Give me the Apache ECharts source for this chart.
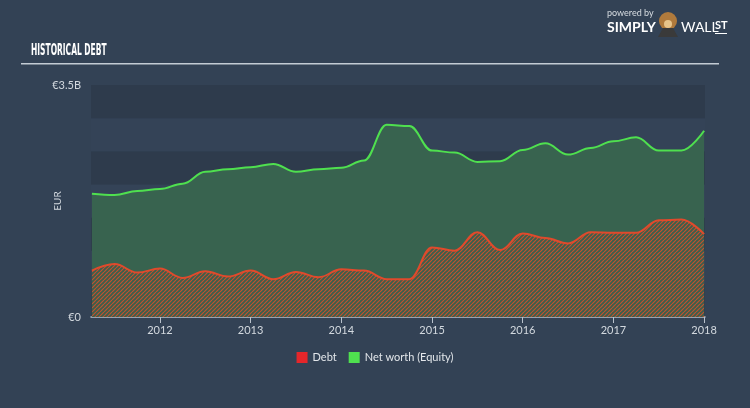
<!DOCTYPE html>
<html><head><meta charset="utf-8">
<script src="https://cdn.jsdelivr.net/npm/echarts@6/dist/echarts.min.js"></script>
<style>html,body{margin:0;padding:0;background:#334255;}#c{width:750px;height:408px;}</style>
</head><body><div id="c"></div>
<script>
// Quarter-end dates (decimal years)
var quarters = [2011.25,2011.5,2011.75,2012.0,2012.25,2012.5,2012.75,2013.0,2013.25,2013.5,2013.75,2014.0,2014.25,2014.5,2014.75,2015.0,2015.25,2015.5,2015.75,2016.0,2016.25,2016.5,2016.75,2017.0,2017.25,2017.5,2017.75,2018.0];
// Debt, EUR billions
var debt = [0.70,0.80,0.67,0.73,0.59,0.69,0.61,0.70,0.57,0.68,0.60,0.72,0.70,0.57,0.57,1.05,1.00,1.28,1.01,1.26,1.19,1.11,1.28,1.27,1.27,1.46,1.47,1.25];
// Net worth (Equity), EUR billions
var equity = [1.86,1.84,1.90,1.93,2.01,2.19,2.23,2.26,2.31,2.19,2.23,2.25,2.36,2.90,2.88,2.51,2.48,2.34,2.35,2.52,2.62,2.45,2.55,2.65,2.71,2.51,2.51,2.81];
var yearTicks = [2012,2013,2014,2015,2016,2017,2018];
var yLabels = {0:'€0', 3.5:'€3.5B'};

function pairs(v){ return quarters.map(function(q,i){ return [q, v[i]]; }); }

var pc = document.createElement('canvas');
pc.width = 4; pc.height = 4;
var g = pc.getContext('2d');
g.fillStyle = '#3a5f4c'; g.fillRect(0,0,4,4);
g.strokeStyle = '#bf5230'; g.lineWidth = 1.2;
for (var k=-4;k<=8;k+=4){ g.beginPath(); g.moveTo(k,4); g.lineTo(k+4,0); g.stroke(); }

var chart = echarts.init(document.getElementById('c'));
var font = 'Lato, "Open Sans", sans-serif';
chart.setOption({
  backgroundColor: '#334255',
  animation: false,
  grid: {left: 91, right: 45, top: 85, bottom: 91},
  xAxis: {
    type: 'value', min: 2011.24, max: 2018.01,
    splitLine: {show: false},
    axisLine: {show: true, lineStyle: {color: '#b9c2cc', width: 1.5}},
    axisTick: {show: true, customValues: yearTicks, length: 6, lineStyle: {color: '#b9c2cc'}},
    axisLabel: {customValues: yearTicks, color: '#d3d9df', fontSize: 11, fontFamily: font, margin: 8,
      formatter: function(v){ return String(Math.round(v)); }}
  },
  yAxis: {
    type: 'value', min: 0, max: 3.5, interval: 0.5,
    name: 'EUR', nameLocation: 'middle', nameGap: 28, nameRotate: 90, nameMoveOverlap: false,
    nameTextStyle: {color: '#d3d9df', fontSize: 10, fontFamily: font},
    axisLine: {show: false}, axisTick: {show: false},
    splitLine: {show: false},
    splitArea: {show: true, areaStyle: {color: ['#2e3b4c', '#344357']}},
    axisLabel: {color: '#d3d9df', fontSize: 11, fontFamily: font, margin: 10,
      formatter: function(v){ return yLabels[v] !== undefined ? yLabels[v] : ''; }}
  },
  legend: {
    bottom: 40, left: 'center', icon: 'rect', itemWidth: 11, itemHeight: 11, itemGap: 12,
    textStyle: {color: '#e2e6ea', fontSize: 11, fontFamily: font},
    data: [{name: 'Debt', itemStyle: {color: '#e5262a'}}, {name: 'Net worth (Equity)', itemStyle: {color: '#4fe04f'}}]
  },
  series: [
    {name: 'Net worth (Equity)', type: 'line', data: pairs(equity), showSymbol: false,
      smooth: 0.4, smoothMonotone: 'x',
      lineStyle: {color: '#4fe04f', width: 2},
      itemStyle: {color: '#4fe04f'},
      areaStyle: {color: '#38634f', opacity: 1}, z: 2},
    {name: 'Debt', type: 'line', data: pairs(debt), showSymbol: false,
      smooth: 0.4, smoothMonotone: 'x',
      lineStyle: {color: '#e04a2c', width: 2},
      itemStyle: {color: '#e5262a'},
      areaStyle: {color: {image: pc, repeat: 'repeat'}, opacity: 1}, z: 3}
  ],
  graphic: [
    {type: 'text', x: 31, y: 43, scaleX: 0.47, style: {text: 'HISTORICAL DEBT', fill: '#ffffff',
      font: 'bold 16px "DejaVu Sans", sans-serif'}},
    {type: 'rect', shape: {x: 21, y: 63, width: 698, height: 1.5}, style: {fill: '#c3cbd4'}},
    {type: 'text', left: 607, top: 9, style: {text: 'powered by', fill: '#d8dde2', font: '9px ' + font}},
    {type: 'text', left: 607, top: 20, style: {text: 'SIMPLY', fill: '#ffffff', font: 'bold 14px ' + font}},
    {type: 'circle', shape: {cx: 668, cy: 21, r: 9}, style: {fill: '#b07a3c'}},
    {type: 'polygon', shape: {points: [[658,37],[678,37],[673,28],[663,28]]}, style: {fill: '#3a3a3a'}},
    {type: 'circle', shape: {cx: 668, cy: 24, r: 4}, style: {fill: '#e7c48a'}},
    {type: 'text', left: 681, top: 20, style: {text: 'WALL', fill: '#ffffff', font: '14px ' + font}},
    {type: 'text', left: 715, top: 20, style: {text: 'ST', fill: '#ffffff', font: 'bold 11px ' + font}},
    {type: 'rect', shape: {x: 715, y: 33, width: 12, height: 1}, style: {fill: '#ffffff'}}
  ]
});
</script></body></html>
